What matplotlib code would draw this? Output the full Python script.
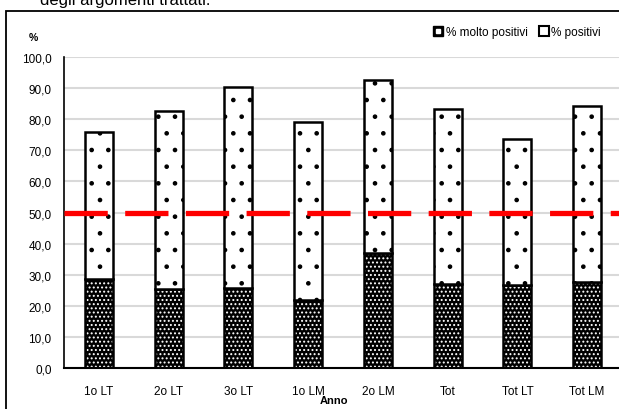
import matplotlib
matplotlib.use("Agg")
import matplotlib.pyplot as plt
from matplotlib.patches import Rectangle
from matplotlib.lines import Line2D
from matplotlib.legend_handler import HandlerTuple

plt.rcParams['font.family'] = ['Liberation Sans', 'DejaVu Sans']
plt.rcParams['hatch.linewidth'] = 0.9

# data
categories = ["1o LT", "2o LT", "3o LT", "1o LM", "2o LM", "Tot", "Tot LT", "Tot LM"]
molto_positivi = [28.7, 25.5, 25.6, 22.0, 37.0, 27.1, 26.7, 27.7]
totale = [76.0, 82.5, 90.5, 79.0, 92.5, 83.2, 73.5, 84.2]
positivi = [t - m for t, m in zip(totale, molto_positivi)]
soglia = 50.0
yticks = [0, 10, 20, 30, 40, 50, 60, 70, 80, 90, 100]

fig = plt.figure(figsize=(6.19, 4.10), dpi=100)
ax = fig.add_axes([64/619, 1 - 369/410, 558/619, (369 - 58)/410])

x = range(len(categories))
w = 0.4

# dark part: black with white dots
ax.bar(x, molto_positivi, width=w, color="black", edgecolor="white",
       hatch="....", linewidth=0, zorder=2)
ax.bar(x, molto_positivi, width=w, facecolor="none", edgecolor="black",
       linewidth=1.8, zorder=3)
# light part: white with sparse dots
ax.bar(x, positivi, bottom=molto_positivi, width=w, color="white",
       edgecolor="black", hatch=".", linewidth=1.8, zorder=3)

ax.axhline(soglia, color="#ff0000", linewidth=3.8, linestyle=(0, (8.2, 3.3)),
           zorder=4)

ax.set_ylim(0, 100)
ax.set_xlim(-0.5, len(categories) - 0.5)
ax.set_yticks(yticks)
ax.set_yticklabels([f"{v:.1f}".replace(".", ",") for v in yticks], fontsize=8.5)
ax.set_xticks(list(x))
ax.set_xticklabels(categories, fontsize=8.5)
ax.tick_params(length=0, pad=9)
ax.tick_params(axis="x", pad=12)
ax.yaxis.grid(True, color="#d9d9d9", linewidth=1.5, zorder=0)
ax.set_axisbelow(True)
for s in ["top", "right"]:
    ax.spines[s].set_visible(False)
ax.spines["left"].set_linewidth(1.2)
ax.spines["bottom"].set_linewidth(1.5)

fig.text(33/619, 1 - 38/410, "%", fontsize=7.5, fontweight="bold",
         ha="center", va="center")
fig.text(334/619, 1 - 401/410, "Anno", fontsize=8, fontweight="bold",
         ha="center", va="center")

# legend
h1 = (Line2D([], [], marker="s", markersize=7, color="black", linestyle="none"),
      Line2D([], [], marker="s", markersize=2.2, color="white", linestyle="none"))
h2 = Line2D([], [], marker="s", markersize=6.5, markerfacecolor="white",
            markeredgecolor="black", markeredgewidth=1.5, linestyle="none")
fig.legend([h1, h2], ["% molto positivi", "% positivi"], loc="center right",
           bbox_to_anchor=(607/619, 1 - 33/410), ncol=2, frameon=False,
           fontsize=8.5, handlelength=0.7, handletextpad=0.3,
           columnspacing=1.0, borderpad=0,
           handler_map={tuple: HandlerTuple(ndivide=1, pad=0)})

# outer chart frame and cut-off heading
fig.add_artist(Rectangle((6/619, -0.1), 1.0, 1 - 12/410 + 0.1,
                         transform=fig.transFigure, fill=False,
                         edgecolor="black", linewidth=1.3))
fig.text(40/619, 1 - 5/410, "degli argomenti trattati.", fontsize=12,
         ha="left", va="baseline")

fig.savefig("out.png", dpi=100)
